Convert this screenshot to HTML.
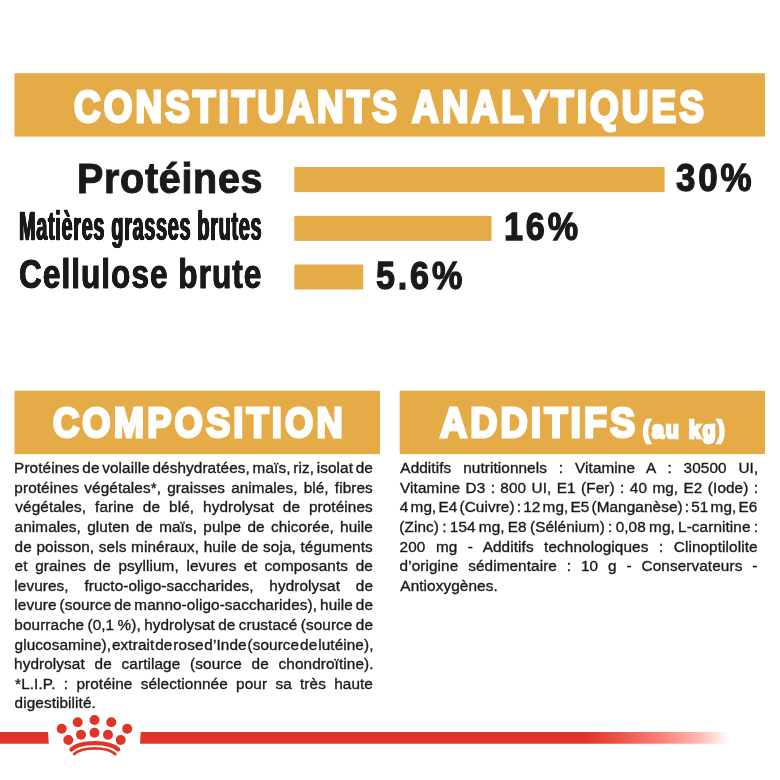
<!DOCTYPE html>
<html lang="fr"><head><meta charset="utf-8"><title>Constituants analytiques</title>
<style>
html,body{margin:0;padding:0;background:#fff}
body{width:780px;height:780px;position:relative;overflow:hidden;font-family:"Liberation Sans",sans-serif}
.t{position:absolute;white-space:pre;line-height:1;transform-origin:0 0}
.b{position:absolute;white-space:pre;line-height:1;font-size:15.3px;letter-spacing:0.1px;color:#1a1a1a;-webkit-text-stroke:0.35px #1a1a1a}
</style></head><body>
<svg width="780" height="780" viewBox="0 0 780 780" style="position:absolute;left:0;top:0">
<defs><linearGradient id="fade" gradientUnits="userSpaceOnUse" x1="580" y1="0" x2="730" y2="0"><stop offset="0.033" stop-color="#e03426"/><stop offset="0.273" stop-color="#ee5549"/><stop offset="0.547" stop-color="#fd827b"/><stop offset="0.753" stop-color="#ffafa9"/><stop offset="0.887" stop-color="#ffd8d4"/><stop offset="0.993" stop-color="#ffffff"/></linearGradient></defs>
<rect x="14.5" y="73.2" width="750.5" height="63.4" fill="#e5ab46"/><rect x="14.5" y="390.7" width="365.5" height="63.4" fill="#e5ab46"/><rect x="399.7" y="390.7" width="365.3" height="63.4" fill="#e5ab46"/><rect x="294.3" y="167.0" width="370.3" height="25.1" fill="#e5ab46"/><rect x="294.3" y="215.9" width="197.2" height="25.0" fill="#e5ab46"/><rect x="294.3" y="264.5" width="68.9" height="25.0" fill="#e5ab46"/>
<polygon points="0,732 48,732 48.8,743.7 0,743.7" fill="#e03426"/>
<polygon points="140.8,732 780,732 780,743.7 140,743.7" fill="url(#fade)"/>
<g fill="#e03426"><circle cx="61.7" cy="728.8" r="5"/><circle cx="77.7" cy="722.3" r="5"/><circle cx="94.5" cy="720" r="5"/><circle cx="111.3" cy="722.3" r="5"/><circle cx="127.2" cy="728.8" r="5"/><circle cx="68.3" cy="740" r="5"/><circle cx="81" cy="734.7" r="5"/><circle cx="94.5" cy="732.8" r="5"/><circle cx="108" cy="734.7" r="5"/><circle cx="120.7" cy="740" r="5"/></g>
<path d="M71.4,749.4 C80,740.9 109,740.9 118.2,749.4" fill="none" stroke="#e03426" stroke-width="4.2" stroke-linecap="round"/>
<path d="M74.2,754.1 C82,746.4 107,746.4 115.3,754.1" fill="none" stroke="#e03426" stroke-width="2.8" stroke-linecap="round"/>
</svg>
<div class="t" style="left:74.09px;top:85.15px;font-size:43.64px;font-weight:700;color:#fff;letter-spacing:3.67px;-webkit-text-stroke:3.0px #fff;transform:scaleX(0.8451);">CONSTITUANTS ANALYTIQUES</div>
<div class="t" style="left:52.79px;top:401.49px;font-size:43.35px;font-weight:700;color:#fff;letter-spacing:3.69px;-webkit-text-stroke:3.0px #fff;transform:scaleX(0.8393);">COMPOSITION</div>
<div class="t" style="left:439.77px;top:401.49px;font-size:43.35px;font-weight:700;color:#fff;letter-spacing:3.57px;-webkit-text-stroke:3.0px #fff;transform:scaleX(0.8682);">ADDITIFS</div>
<div class="t" style="left:643.20px;top:417.86px;font-size:23.86px;font-weight:700;color:#fff;letter-spacing:2.12px;-webkit-text-stroke:2.6px #fff;transform:scaleX(0.8978);">(au kg)</div>
<div class="t" style="left:76.97px;top:157.63px;font-size:41.75px;font-weight:700;color:#1a1a1a;letter-spacing:0.74px;-webkit-text-stroke:1.0px #1a1a1a;transform:scaleX(0.9458);">Protéines</div>
<div class="t" style="left:19.45px;top:206.47px;font-size:40.69px;font-weight:700;color:#1a1a1a;letter-spacing:1.43px;-webkit-text-stroke:0.3px #1a1a1a;text-shadow:0.34px 0 0 #1a1a1a,-0.34px 0 0 #1a1a1a,0.68px 0 0 #1a1a1a,-0.68px 0 0 #1a1a1a,1.02px 0 0 #1a1a1a,-1.02px 0 0 #1a1a1a;transform:scaleX(0.4879);">Matières grasses brutes</div>
<div class="t" style="left:19.13px;top:253.92px;font-size:40.69px;font-weight:700;color:#1a1a1a;letter-spacing:1.29px;-webkit-text-stroke:0.8px #1a1a1a;text-shadow:0.39px 0 0 #1a1a1a,-0.39px 0 0 #1a1a1a;transform:scaleX(0.7771);">Cellulose brute</div>
<div class="t" style="left:675.97px;top:159.35px;font-size:38.59px;font-weight:700;color:#1a1a1a;letter-spacing:3.09px;-webkit-text-stroke:1.3px #1a1a1a;transform:scaleX(0.9051);">30%</div>
<div class="t" style="left:504.45px;top:208.05px;font-size:38.59px;font-weight:700;color:#1a1a1a;letter-spacing:3.16px;-webkit-text-stroke:1.3px #1a1a1a;transform:scaleX(0.8871);">16%</div>
<div class="t" style="left:375.76px;top:257.15px;font-size:38.59px;font-weight:700;color:#1a1a1a;letter-spacing:3.16px;-webkit-text-stroke:1.3px #1a1a1a;transform:scaleX(0.8860);">5.6%</div>
<div class="b" style="left:14.10px;top:460.05px;word-spacing:-1.650px">Protéines de volaille déshydratées, maïs, riz, isolat de</div>
<div class="b" style="left:14.35px;top:479.67px;word-spacing:1.790px">protéines végétales*, graisses animales, blé, fibres</div>
<div class="b" style="left:15.35px;top:499.29px;word-spacing:4.617px">végétales, farine de blé, hydrolysat de protéines</div>
<div class="b" style="left:14.60px;top:518.91px;word-spacing:1.886px">animales, gluten de maïs, pulpe de chicorée, huile</div>
<div class="b" style="left:14.60px;top:538.53px;word-spacing:0.279px">de poisson, sels minéraux, huile de soja, téguments</div>
<div class="b" style="left:14.60px;top:558.15px;word-spacing:3.243px">et graines de psyllium, levures et composants de</div>
<div class="b" style="left:14.35px;top:577.77px;word-spacing:11.400px">levures, fructo-oligo-saccharides, hydrolysat de</div>
<div class="b" style="left:14.35px;top:597.39px;word-spacing:-1.410px">levure (source de manno-oligo-saccharides), huile de</div>
<div class="b" style="left:14.35px;top:617.01px;word-spacing:-1.007px">bourrache (0,1 %), hydrolysat de crustacé (source de</div>
<div class="b" style="left:14.60px;top:636.63px;word-spacing:-3.471px">glucosamine), extrait de rose d’Inde (source de lutéine),</div>
<div class="b" style="left:14.10px;top:656.25px;word-spacing:5.440px">hydrolysat de cartilage (source de chondroïtine).</div>
<div class="b" style="left:15.10px;top:675.87px;word-spacing:3.921px">*L.I.P. : protéine sélectionnée pour sa très haute</div>
<div class="b" style="left:14.60px;top:695.49px;word-spacing:0.000px">digestibilité.</div>
<div class="b" style="left:400.35px;top:460.05px;word-spacing:7.507px">Additifs nutritionnels : Vitamine A : 30500 UI,</div>
<div class="b" style="left:400.10px;top:479.67px;word-spacing:1.025px">Vitamine D3 : 800 UI, E1 (Fer) : 40 mg, E2 (Iode) :</div>
<div class="b" style="left:399.85px;top:499.29px;word-spacing:-2.246px">4 mg, E4 (Cuivre) : 12 mg, E5 (Manganèse) : 51 mg, E6</div>
<div class="b" style="left:399.35px;top:518.91px;word-spacing:-1.145px">(Zinc) : 154 mg, E8 (Sélénium) : 0,08 mg, L-carnitine :</div>
<div class="b" style="left:399.60px;top:538.53px;word-spacing:6.133px">200 mg - Additifs technologiques : Clinoptilolite</div>
<div class="b" style="left:399.60px;top:558.15px;word-spacing:5.507px">d’origine sédimentaire : 10 g - Conservateurs -</div>
<div class="b" style="left:400.35px;top:577.77px;word-spacing:0.000px">Antioxygènes.</div>
</body></html>
